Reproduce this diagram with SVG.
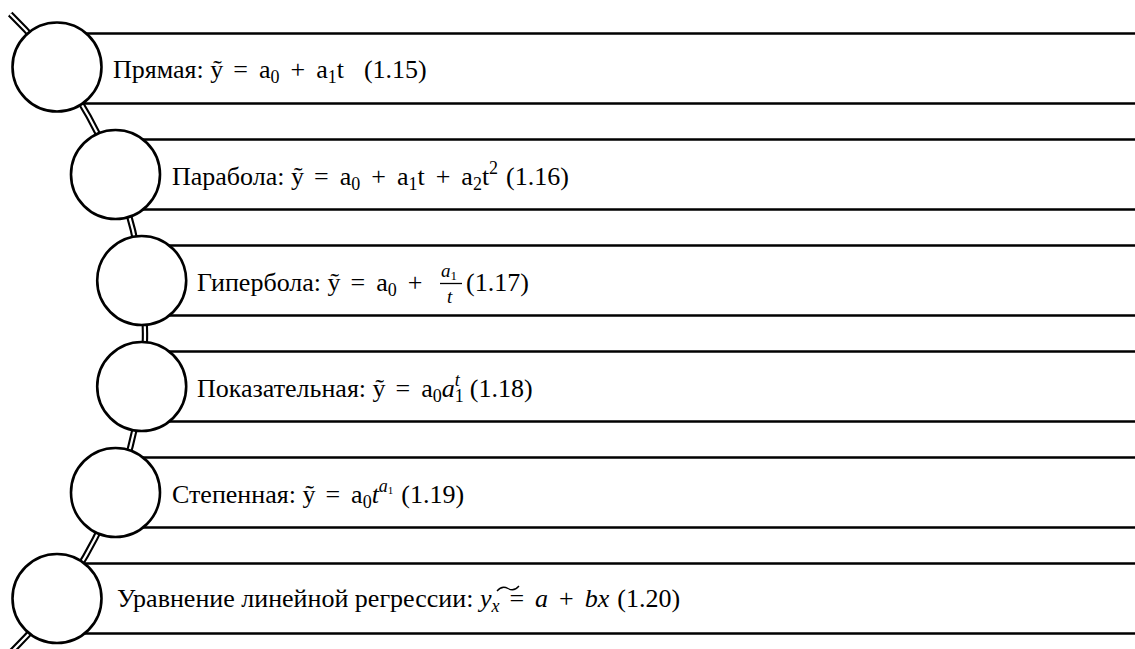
<svg xmlns="http://www.w3.org/2000/svg" width="1135" height="649" viewBox="0 0 1135 649">
<rect width="1135" height="649" fill="#fff"/>
<g id="connectors" fill="none">
<path d="M10.2 14 A446 446 0 0 1 2.8 660" stroke="#000" stroke-width="6.4"/>
<path d="M10.2 14 A446 446 0 0 1 2.8 660" stroke="#fff" stroke-width="2.2"/>
</g>
<g id="node1">
<path d="M57 33.5H1140M57 103.5H1140" stroke="#000" stroke-width="2.6" fill="none"/>
<circle cx="57" cy="67" r="44.5" fill="#fff" stroke="#000" stroke-width="2.6"/>
</g>
<g id="node2">
<path d="M115.5 139.5H1140M115.5 209.5H1140" stroke="#000" stroke-width="2.6" fill="none"/>
<circle cx="115.5" cy="174.5" r="44.5" fill="#fff" stroke="#000" stroke-width="2.6"/>
</g>
<g id="node3">
<path d="M141.7 245.5H1140M141.7 315.5H1140" stroke="#000" stroke-width="2.6" fill="none"/>
<circle cx="141.7" cy="280.5" r="44.5" fill="#fff" stroke="#000" stroke-width="2.6"/>
<path d="M440 283.5H462" stroke="#000" stroke-width="1.3"/>
</g>
<g id="node4">
<path d="M141.7 351.5H1140M141.7 421.5H1140" stroke="#000" stroke-width="2.6" fill="none"/>
<circle cx="141.7" cy="386.5" r="44.5" fill="#fff" stroke="#000" stroke-width="2.6"/>
</g>
<g id="node5">
<path d="M115.5 457.5H1140M115.5 527.5H1140" stroke="#000" stroke-width="2.6" fill="none"/>
<circle cx="115.5" cy="492.5" r="44.5" fill="#fff" stroke="#000" stroke-width="2.6"/>
</g>
<g id="node6">
<path d="M57 563.5H1140M57 633.5H1140" stroke="#000" stroke-width="2.6" fill="none"/>
<circle cx="57" cy="598.5" r="44.5" fill="#fff" stroke="#000" stroke-width="2.6"/>
<path d="M497 591 q5 -6 11 -2.5 t11 -2.5" stroke="#000" stroke-width="1.3" fill="none"/>
</g>
<text id="label1" font-family="Liberation Serif" font-size="26" x="113" y="78">Прямая: ỹ<tspan dx="10">=</tspan><tspan dx="11">a</tspan><tspan font-size="18" dy="5">0</tspan><tspan dy="-5" dx="11">+</tspan><tspan dx="11">a</tspan><tspan font-size="18" dy="5">1</tspan><tspan dy="-5">t</tspan><tspan dx="20">(1.15)</tspan></text>
<text id="label2" font-family="Liberation Serif" font-size="26" x="172" y="185">Парабола: ỹ<tspan dx="10">=</tspan><tspan dx="11">a</tspan><tspan font-size="18" dy="5">0</tspan><tspan dy="-5" dx="11">+</tspan><tspan dx="11">a</tspan><tspan font-size="18" dy="5">1</tspan><tspan dy="-5">t</tspan><tspan dx="11">+</tspan><tspan dx="11">a</tspan><tspan font-size="18" dy="5">2</tspan><tspan dy="-5">t</tspan><tspan font-size="18" dy="-11">2</tspan><tspan dy="11" dx="8">(1.16)</tspan></text>
<text id="label3" font-family="Liberation Serif" font-size="26" x="197" y="291">Гипербола: ỹ<tspan dx="10">=</tspan><tspan dx="11">a</tspan><tspan font-size="18" dy="5">0</tspan><tspan dy="-5" dx="11">+</tspan></text>
<text id="label3n" font-family="Liberation Serif" font-style="italic" font-size="19" x="441" y="277">a<tspan font-style="normal" font-size="13" dy="3">1</tspan></text>
<text id="label3d" font-family="Liberation Serif" font-style="italic" font-size="19" x="447" y="303">t</text>
<text id="label3e" font-family="Liberation Serif" font-size="26" x="466" y="291">(1.17)</text>
<text id="label4" font-family="Liberation Serif" font-size="26" x="197" y="397">Показательная: ỹ<tspan dx="10">=</tspan><tspan dx="11">a</tspan><tspan font-size="18" dy="5">0</tspan><tspan dy="-5" font-style="italic">a</tspan><tspan font-size="18" dy="5">1</tspan><tspan font-size="18" font-style="italic" dx="-9" dy="-16">t</tspan><tspan dy="11" dx="10">(1.18)</tspan></text>
<text id="label5" font-family="Liberation Serif" font-size="26" x="172" y="503">Степенная: ỹ<tspan dx="10">=</tspan><tspan dx="11">a</tspan><tspan font-size="18" dy="5">0</tspan><tspan dy="-5" font-style="italic">t</tspan><tspan font-size="18" font-style="italic" dy="-11">a</tspan><tspan font-size="11" dy="2">1</tspan><tspan dy="9" dx="8">(1.19)</tspan></text>
<text id="label6" font-family="Liberation Serif" font-size="26" x="117" y="607">Уравнение линейной регрессии: <tspan font-style="italic">y</tspan><tspan font-size="18" font-style="italic" dy="5">x</tspan><tspan dy="-5" dx="10">=</tspan><tspan dx="11" font-style="italic">a</tspan><tspan dx="11">+</tspan><tspan dx="11" font-style="italic">bx</tspan><tspan dx="8">(1.20)</tspan></text>
</svg>
